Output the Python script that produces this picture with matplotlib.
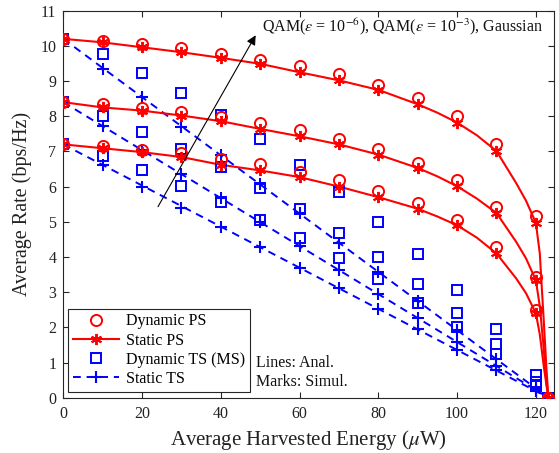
import matplotlib
matplotlib.use("Agg")
import matplotlib.pyplot as plt
from matplotlib.lines import Line2D

plt.rcParams['font.family'] = ['Liberation Serif', 'DejaVu Serif']
plt.rcParams['mathtext.fontset'] = 'stix'

# Harvested energy grid (uW) of the simulated points and the maximum energy
energy = [0, 10, 20, 30, 40, 50, 60, 70, 80, 90, 100, 110, 120]
energy_max = 123.2

# Analytic static-PS curves, sampled more densely where they bend
curve_energy = [0, 10, 20, 30, 40, 50, 60, 70, 80, 90, 95, 100, 105, 110,
                115, 117.5, 120, 121, 122, 122.7, 123.2]
# Order: Gaussian (top), QAM eps=1e-3 (middle), QAM eps=1e-6 (bottom)
static_ps_curve = [
    [10.2, 10.1, 9.96, 9.82, 9.66, 9.49, 9.25, 9.02, 8.75, 8.34, 8.1, 7.82,
     7.46, 7.01, 6.1, 5.6, 4.97, 4.1, 2.2, 0.8, 0],
    [8.4, 8.25, 8.16, 8.02, 7.86, 7.64, 7.43, 7.2, 6.91, 6.53, 6.29, 6.01,
     5.66, 5.25, 4.43, 3.96, 3.34, 2.6, 1.4, 0.4, 0],
    [7.2, 7.09, 6.98, 6.84, 6.62, 6.46, 6.27, 6.0, 5.7, 5.37, 5.15, 4.9,
     4.55, 4.1, 3.39, 2.97, 2.4, 1.8, 0.9, 0.35, 0],
]
dynamic_ps = [
    [10.2, 10.15, 10.05, 9.94, 9.78, 9.6, 9.42, 9.19, 8.9, 8.51, 8.0, 7.2, 5.16],
    [8.4, 8.35, 8.24, 8.11, 7.99, 7.8, 7.6, 7.36, 7.08, 6.68, 6.18, 5.42, 3.44],
    [7.2, 7.15, 7.05, 6.96, 6.79, 6.65, 6.41, 6.18, 5.87, 5.53, 5.04, 4.27, 2.49],
]
dynamic_ts = [
    [10.2, 9.76, 9.23, 8.65, 8.04, 7.34, 6.6, 5.84, 4.98, 4.07, 3.06, 1.95, 0.65],
    [8.4, 8.02, 7.56, 7.07, 6.55, 5.96, 5.35, 4.68, 3.99, 3.23, 2.42, 1.52, 0.46],
    [7.2, 6.88, 6.46, 6.03, 5.56, 5.06, 4.54, 3.97, 3.36, 2.7, 2.02, 1.24, 0.32],
]
static_ts = [
    [10.2, 9.35, 8.54, 7.69, 6.9, 6.06, 5.24, 4.41, 3.58, 2.76, 1.93, 1.1, 0.27],
    [8.4, 7.72, 7.04, 6.36, 5.68, 4.99, 4.31, 3.63, 2.95, 2.27, 1.59, 0.91, 0.22],
    [7.2, 6.6, 5.99, 5.4, 4.86, 4.28, 3.7, 3.11, 2.53, 1.94, 1.36, 0.78, 0.19],
]
rate_zero_energy = [10.2, 8.4, 7.2]

legend_labels = ["Dynamic PS", "Static PS", "Dynamic TS (MS)", "Static TS"]

RED = (1, 0, 0)
BLUE = (0, 0, 1)
ASTERISK = (6, 2, 0)
DASH = (0, (4, 3))

fig = plt.figure(figsize=(5.59, 4.53), dpi=100)
ax = fig.add_axes([0.1132, 0.1221, 0.8778, 0.8543])

marker_energy = energy + [energy_max]
for k in range(3):
    # analytic curves
    ax.plot(curve_energy, static_ps_curve[k], color=RED, lw=1.5, zorder=2)
    ax.plot([0, energy_max], [rate_zero_energy[k], 0],
            color=BLUE, lw=1.4, linestyle=DASH, zorder=2)
    # static PS marks sit on the analytic curve at the grid energies
    ps_marks = [r for e, r in zip(curve_energy, static_ps_curve[k])
                if e in marker_energy]
    # markers
    ax.plot(marker_energy, static_ts[k] + [0], linestyle='none',
            marker='+', ms=9, mew=1.5, color=BLUE, zorder=3)
    ax.plot(marker_energy, dynamic_ts[k] + [0], linestyle='none',
            marker='s', ms=7, mew=1.4, mfc='none', mec=BLUE, zorder=3)
    ax.plot(marker_energy, ps_marks, linestyle='none',
            marker=ASTERISK, ms=8, mew=1.4, color=RED, zorder=4)
    ax.plot(marker_energy, dynamic_ps[k] + [0], linestyle='none',
            marker='o', ms=8, mew=1.4, mfc='none', mec=RED, zorder=4)

ax.set_xlim(0, 124.6)
ax.set_ylim(0, 11)
ax.set_xticks([0, 20, 40, 60, 80, 100, 120])
ax.set_yticks(range(0, 12))

axis_col = (0.15, 0.15, 0.15)
for s in ax.spines.values():
    s.set_color(axis_col)
    s.set_linewidth(0.8)
ax.tick_params(direction='in', top=True, right=True, length=4, width=0.8,
               colors=axis_col, labelsize=11.5, labelcolor='#222222')
ax.tick_params(axis='x', pad=6)
ax.tick_params(axis='y', pad=5)

ax.set_xlabel(r"Average Harvested Energy ($\mu$W)", fontsize=15,
              color='#222222', labelpad=4)
ax.set_ylabel("Average Rate (bps/Hz)", fontsize=14.5, color='#222222',
              labelpad=6)

# arrow pointing from QAM(1e-6) towards Gaussian
ax.annotate("", xy=(49.2, 10.37), xytext=(23.7, 5.36),
            arrowprops=dict(arrowstyle='-|>', color='black', lw=0.8,
                            mutation_scale=14), zorder=5)
ax.text(50.4, 10.55,
        r"QAM($\epsilon$ = 10$^{-6}$), QAM($\epsilon$ = 10$^{-3}$), Gaussian",
        fontsize=11.5, va='center', ha='left', color='#111111')
ax.text(48.9, 0.98, "Lines: Anal.", fontsize=11.5, va='center', ha='left',
        color='#111111')
ax.text(48.9, 0.46, "Marks: Simul.", fontsize=11.5, va='center', ha='left',
        color='#111111')

handles = [
    Line2D([], [], linestyle='none', marker='o', ms=8, mew=1.4, mfc='none',
           mec=RED),
    Line2D([], [], color=RED, lw=1.5, marker=ASTERISK, ms=8, mew=1.4),
    Line2D([], [], linestyle='none', marker='s', ms=7, mew=1.4, mfc='none',
           mec=BLUE),
    Line2D([], [], color=BLUE, lw=1.4, linestyle=DASH, marker='+', ms=9,
           mew=1.5),
]
leg = ax.legend(handles, legend_labels, loc='lower left',
                bbox_to_anchor=(0.0102, 0.0155), borderaxespad=0,
                fontsize=11.5, handlelength=2.9, handletextpad=0.4,
                labelspacing=0.2, borderpad=0.3, fancybox=False,
                framealpha=1, edgecolor=axis_col)
leg.get_frame().set_linewidth(0.8)

fig.savefig("out.png", dpi=100)
